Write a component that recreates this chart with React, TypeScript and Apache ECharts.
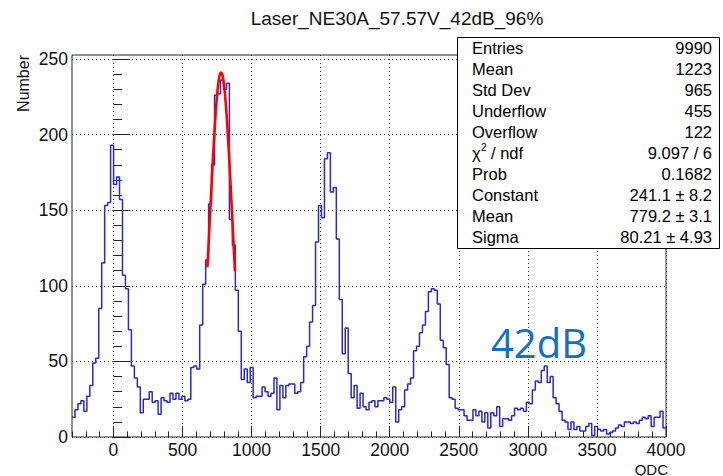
import React, { useEffect, useRef } from "react";
import * as echarts from "echarts";

// Histogram range and binning (200 bins between -300 and 4000)
const X_MIN = -300;
const X_MAX = 4000;
const BIN_WIDTH = 21.5;
const Y_MAX = 252.6;

// Counts per bin
const counts: number[] = [
  13, 18, 22, 24, 17, 27, 34, 49, 52, 85, 115, 153, 155, 193,
  167, 172, 157, 107, 98, 71, 47, 39, 33, 16, 25, 25, 30, 23, 24, 15, 26, 24, 23, 29, 25, 29, 25, 27, 24, 25,
  46, 47, 45, 74, 101, 117, 154, 180, 226, 227, 236, 230, 234, 144, 127, 97, 70,
  38, 45, 36, 46, 26, 27, 27, 33, 30, 27, 29, 39, 18,
  34, 26, 34, 35, 35, 29, 30, 36, 53, 60, 76, 87, 129, 153, 145, 184, 188, 162, 165, 131, 91, 55, 72, 42, 26, 34, 19, 29, 20, 18,
  23, 24, 20, 24, 24, 26, 25, 23, 33, 10, 18, 20, 31, 35, 39, 57, 60, 69, 74, 83, 96, 98, 97, 88, 64, 59, 48, 26, 25, 19, 18, 18, 14, 11,
  11, 18, 14, 17, 10, 16, 6, 16, 14, 20, 7, 12, 12, 11, 14, 19, 18, 19, 17, 23, 22, 31, 37, 36, 44, 47, 36, 40, 26, 22, 17, 11, 10, 5,
  10, 5, 7, 4, 4, 7, 9, 1, 7, 5, 4, 5, 2, 3, 4, 6, 8, 7, 10, 10, 9, 10, 9, 11, 13, 12, 14, 7, 13, 13, 17, 6,
];

// Gaussian fit parameters and fit range
const FIT_CONSTANT = 241.1;
const FIT_MEAN = 779.2;
const FIT_SIGMA = 80.21;
const FIT_RANGE = [680, 880];

// Axis ticks
const xMajorTicks = [0, 500, 1000, 1500, 2000, 2500, 3000, 3500, 4000];
const yMajorTicks = [0, 50, 100, 150, 200, 250];

// Statistics box
const statLabels = ["Entries", "Mean", "Std Dev", "Underflow", "Overflow", "", "Prob", "Constant", "Mean", "Sigma"];
const statValues = ["9990", "1223", "965", "455", "122", "9.097 / 6", "0.1682", "241.1 ± 8.2", "779.2 ± 3.1", "80.21 ± 4.93"];

const TITLE = "Laser_NE30A_57.57V_42dB_96%";
const NOTE = "42dB";

const FONT = "'Liberation Sans', Arial, Helvetica, sans-serif";

function stepPoints(): number[][] {
  const pts: number[][] = [];
  counts.forEach((c, i) => {
    const x0 = X_MIN + i * BIN_WIDTH;
    pts.push([x0, c]);
    pts.push([x0 + BIN_WIDTH, c]);
  });
  return pts;
}

function fitPoints(): number[][] {
  const pts: number[][] = [];
  const n = 120;
  for (let k = 0; k <= n; k++) {
    const x = FIT_RANGE[0] + ((FIT_RANGE[1] - FIT_RANGE[0]) * k) / n;
    const z = (x - FIT_MEAN) / FIT_SIGMA;
    pts.push([x, FIT_CONSTANT * Math.exp(-0.5 * z * z)]);
  }
  return pts;
}

function minorTicks(min: number, max: number, step: number): number[] {
  const out: number[] = [];
  for (let v = min; v <= max + 1e-9; v += step) out.push(v);
  return out;
}

export default function App() {
  const ref = useRef<HTMLDivElement>(null);

  useEffect(() => {
    if (!ref.current) return;
    const chart = echarts.init(ref.current, null, { renderer: "svg" });

    const gridLeft = 72;
    const gridTop = 55;
    const gridWidth = 594;
    const gridHeight = 382;

    const dotted = { color: "#444", width: 1, type: [1, 3] as number[] };

    const statsTop = 37;
    const rowH = 21.1;
    const statFont = `16.5px ${FONT}`;
    const statsGraphics: any[] = [
      {
        type: "rect",
        shape: { x: 457.5, y: 37.5, width: 262, height: 211 },
        style: { fill: "#fff", stroke: "#000", lineWidth: 1 },
        z: 100,
      },
    ];
    statLabels.forEach((lab, i) => {
      const y = statsTop + rowH * (i + 0.5);
      if (lab) {
        statsGraphics.push({
          type: "text",
          x: 472,
          y,
          z: 101,
          style: { text: lab, font: statFont, fill: "#000", align: "left", verticalAlign: "middle" },
        });
      }
      statsGraphics.push({
        type: "text",
        x: 712,
        y,
        z: 101,
        style: { text: statValues[i], font: statFont, fill: "#000", align: "right", verticalAlign: "middle" },
      });
    });
    // chi-square label with superscript
    const chiY = statsTop + rowH * 5.5;
    statsGraphics.push(
      { type: "text", x: 472, y: chiY, z: 101, style: { text: "χ", font: statFont, fill: "#000", align: "left", verticalAlign: "middle" } },
      { type: "text", x: 481, y: chiY - 6, z: 101, style: { text: "2", font: `10px ${FONT}`, fill: "#000", align: "left", verticalAlign: "middle" } },
      { type: "text", x: 491, y: chiY, z: 101, style: { text: "/ ndf", font: statFont, fill: "#000", align: "left", verticalAlign: "middle" } }
    );

    const labelStyle = { fontSize: 17.5, fontFamily: FONT, color: "#111" };

    chart.setOption({
      animation: false,
      backgroundColor: "#fff",
      grid: {
        left: gridLeft,
        top: gridTop,
        width: gridWidth,
        height: gridHeight,
        show: true,
        borderColor: "#222",
        borderWidth: 1,
        backgroundColor: "transparent",
        containLabel: false,
      },
      xAxis: [
        {
          type: "value",
          min: X_MIN,
          max: X_MAX,
          position: "bottom",
          axisLine: { show: false, onZero: false },
          axisTick: { show: true, inside: true, length: 11, customValues: xMajorTicks, lineStyle: { color: "#222" } },
          axisLabel: {
            show: true,
            customValues: xMajorTicks,
            ...labelStyle,
            margin: 4,
            formatter: (v: number) => String(v),
          },
          splitLine: { show: true, lineStyle: dotted },
        },
        {
          type: "value",
          min: X_MIN,
          max: X_MAX,
          position: "bottom",
          axisLine: { show: false, onZero: false },
          axisTick: { show: true, inside: true, length: 5.5, customValues: minorTicks(-300, 4000, 100), lineStyle: { color: "#222" } },
          axisLabel: { show: false },
          splitLine: { show: false },
        },
      ],
      yAxis: [
        {
          type: "value",
          min: 0,
          max: Y_MAX,
          position: "left",
          axisLine: { show: false },
          axisTick: { show: true, inside: true, length: 17, customValues: yMajorTicks, lineStyle: { color: "#222" } },
          axisLabel: {
            show: true,
            customValues: yMajorTicks,
            ...labelStyle,
            margin: 4,
            formatter: (v: number) => String(v),
          },
          splitLine: { show: true, lineStyle: dotted },
        },
        {
          type: "value",
          min: 0,
          max: Y_MAX,
          position: "left",
          axisLine: { show: false },
          axisTick: { show: true, inside: true, length: 8.5, customValues: minorTicks(0, 250, 10), lineStyle: { color: "#222" } },
          axisLabel: { show: false },
          splitLine: { show: false },
        },
      ],
      series: [
        {
          type: "line",
          name: "histogram",
          xAxisIndex: 0,
          yAxisIndex: 0,
          data: stepPoints(),
          showSymbol: false,
          symbol: "none",
          lineStyle: { color: "#2a2ac4", width: 1.5 },
          z: 3,
          clip: true,
        },
        {
          type: "line",
          name: "gaus",
          xAxisIndex: 0,
          yAxisIndex: 0,
          data: fitPoints(),
          showSymbol: false,
          symbol: "none",
          lineStyle: { color: "#ff0000", width: 2.6 },
          z: 4,
        },
      ],
      graphic: [
        {
          type: "text",
          x: 397,
          y: 18,
          style: { text: TITLE, font: `19px ${FONT}`, fill: "#111", align: "center", verticalAlign: "middle" },
        },
        {
          type: "text",
          x: 23,
          y: 55,
          rotation: Math.PI / 2,
          style: { text: "Number", font: `16px ${FONT}`, fill: "#111", align: "right", verticalAlign: "middle" },
        },
        {
          type: "text",
          x: 668,
          y: 469,
          style: { text: "QDC", font: `15px ${FONT}`, fill: "#111", align: "right", verticalAlign: "middle" },
        },
        {
          type: "text",
          x: 491,
          y: 342,
          z: 50,
          style: { text: NOTE, font: `40px 'Open Sans', 'Noto Sans', sans-serif`, fill: "#1170c0", align: "left", verticalAlign: "middle" },
        },
        ...statsGraphics,
      ],
    });

    return () => chart.dispose();
  }, []);

  return (
    <div
      ref={ref}
      style={{ position: "absolute", left: 0, top: 0, width: 723, height: 476, background: "#fff" }}
    />
  );
}
